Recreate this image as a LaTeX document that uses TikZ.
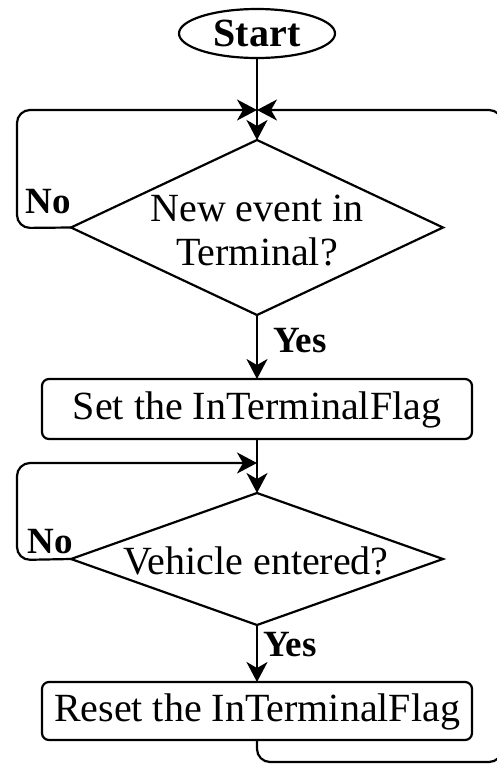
\documentclass[tikz,border=0pt]{standalone}
\usepackage{fontspec}
\setmainfont{Liberation Serif}
\usetikzlibrary{shapes.geometric,arrows.meta}
\begin{document}
\begin{tikzpicture}[x=1pt,y=-1pt,
  line width=2.2pt,
  every node/.style={inner sep=0pt, outer sep=0pt},
  arr/.style={-{Stealth[length=20pt,width=21pt,inset=6pt]}},
  txt/.style={font=\fontsize{40}{44}\selectfont},
  lbl/.style={font=\fontsize{37}{40}\selectfont\bfseries},
  startbox/.style={ellipse, draw, minimum width=156pt, minimum height=49pt},
  procbox/.style={rectangle, draw, rounded corners=7pt, minimum width=430pt},
  decbox/.style={diamond, draw, minimum width=372pt},
  loopline/.style={rounded corners=13pt}
]
\clip (0,0) rectangle (497,764);
% nodes
\node[startbox] (start) at (257,33.5) {};
\node[font=\fontsize{40}{44}\selectfont\bfseries] (starttxt) at (257,33.5) {Start};
\node[decbox, minimum height=175pt] (d1) at (257,227.5) {};
\node[txt, align=center] (d1txt) at (257,231) {New event in\\Terminal?};
\node[procbox, minimum height=60pt] (set) at (257,409) {};
\node[txt] (settxt) at (257,410) {Set the InTerminalFlag};
\node[decbox, minimum height=132pt] (d2) at (257,559) {};
\node[txt] (d2txt) at (256,561) {Vehicle entered?};
\node[procbox, minimum height=58pt] (reset) at (257,711) {};
\node[txt] (resettxt) at (257,712) {Reset the InTerminalFlag};
% junctions
\coordinate (j1) at (257,110);
\coordinate (j2) at (257,463);
\coordinate (bl1) at (17,228);
\coordinate (tl1) at (17,110);
\coordinate (bl2) at (17,560);
\coordinate (tl2) at (17,463);
\coordinate (rb) at (257,762);
\coordinate (rr) at (502,762);
\coordinate (rt) at (502,110);
% connectors
\draw[arr] (start.south) -- (d1.north);
\draw[arr, loopline] (d1.west) -- (bl1) -- (tl1) -- (j1);
\draw[arr, loopline] (reset.south) -- (rb) -- (rr) -- (rt) -- (j1);
\draw[arr] (d1.south) -- (set.north);
\draw[arr] (set.south) -- (d2.north);
\draw[arr, loopline] (d2.west) -- (bl2) -- (tl2) -- (j2);
\draw[arr] (d2.south) -- (reset.north);
% labels
\node[lbl] (no1) at (48,202) {No};
\node[lbl] (yes1) at (300,341) {Yes};
\node[lbl] (no2) at (50,542) {No};
\node[lbl] (yes2) at (290,645) {Yes};
\end{tikzpicture}
\end{document}
